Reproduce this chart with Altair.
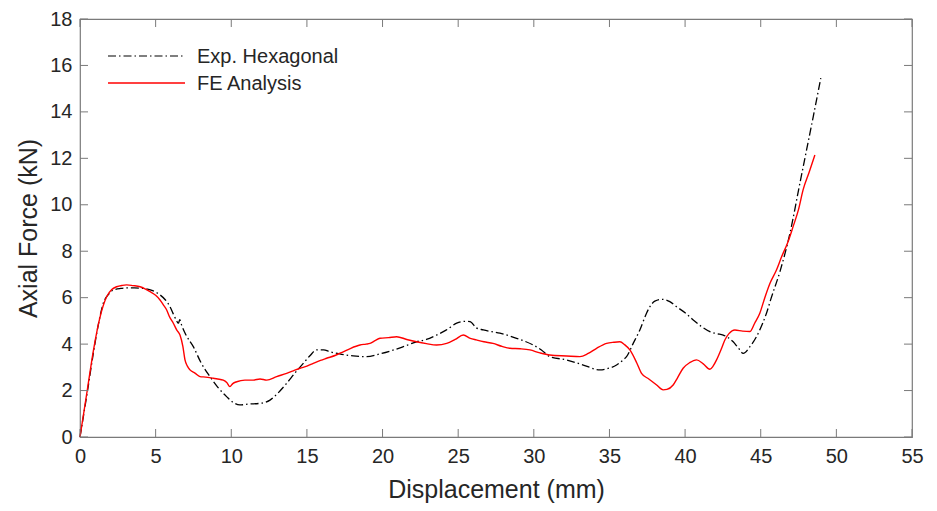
import altair as alt
import pandas as pd

# Exp. Hexagonal (dash-dot black)
exp_x = [0, 0.5, 0.88, 1.2, 1.54, 1.9, 2.2, 2.7, 3.08, 3.6, 4.19, 4.8, 5.29, 5.65, 5.95, 6.2,
         6.39, 6.5, 6.6, 6.7, 7.0, 7.49, 8.0, 8.59, 9.1, 9.69, 10.1, 10.57, 11.2, 11.9, 12.56,
         13.1, 13.66, 14.2, 14.76, 15.2, 15.64, 16.1, 16.52, 17.3, 18.06, 18.95, 19.83, 20.6,
         21.37, 22.25, 22.9, 23.57, 24.2, 24.9, 25.4, 25.78, 26.2, 26.66, 27.76, 28.86, 29.96,
         30.5, 31.06, 32.17, 33.27, 34.37, 34.9, 35.47, 35.91, 36.13, 36.57, 37.01, 37.45,
         37.67, 38.0, 38.44, 38.99, 39.44, 40.0, 40.54, 41.1, 41.64, 42.1, 42.52, 43.18, 43.5,
         43.84, 44.3, 44.72, 45.1, 45.38, 45.7, 46.27, 46.93, 47.59, 48.03, 48.47, 48.97]
exp_y = [0, 2.0, 3.6, 4.8, 5.76, 6.15, 6.33, 6.4, 6.42, 6.42, 6.4, 6.3, 6.12, 5.9, 5.61, 5.25,
         5.0, 4.9, 5.05, 4.85, 4.4, 3.89, 3.2, 2.6, 2.15, 1.74, 1.5, 1.38, 1.42, 1.45, 1.59,
         1.9, 2.31, 2.75, 3.17, 3.5, 3.75, 3.75, 3.67, 3.56, 3.49, 3.46, 3.58, 3.72,
         3.89, 4.1, 4.2, 4.39, 4.6, 4.9, 4.98, 4.97, 4.7, 4.61, 4.47, 4.25, 3.96,
         3.75, 3.46, 3.32, 3.1, 2.89, 2.95, 3.1, 3.32, 3.46, 4.03, 4.61, 5.33,
         5.61, 5.85, 5.93, 5.83, 5.61, 5.35, 5.04, 4.75, 4.54, 4.45, 4.39, 4.1, 3.85,
         3.6, 3.9, 4.32, 4.85, 5.33, 6.0, 7.12, 8.77, 10.93, 12.36, 13.79, 15.45]

# FE Analysis (solid red)
fe_x = [0, 0.5, 0.88, 1.3, 1.76, 2.1, 2.42, 2.8, 3.08, 3.5, 3.97, 4.3, 4.63, 5.0, 5.29, 5.5,
        5.73, 5.9, 6.17, 6.4, 6.61, 6.8, 6.94, 7.1, 7.27, 7.6, 7.93, 8.3, 8.81, 9.1, 9.47,
        9.7, 9.91, 10.1, 10.36, 10.9, 11.46, 11.9, 12.34, 13.0, 13.66, 14.1, 14.54, 15.0,
        15.42, 15.9, 16.3, 16.9, 17.4, 17.9, 18.51, 18.9, 19.17, 19.5, 19.83, 20.4, 20.93,
        21.6, 22.25, 22.9, 23.57, 24.24, 24.8, 25.34, 25.8, 26.2, 26.7, 27.3, 27.9, 28.42,
        29.1, 29.74, 30.4, 31.06, 32.17, 33.05, 33.6, 34.15, 34.81, 35.3, 35.69, 36.0, 36.35,
        36.8, 37.12, 37.6, 38.1, 38.55, 38.8, 39.21, 39.5, 39.87, 40.3, 40.76, 41.2, 41.64,
        41.85, 42.08, 42.4, 42.63, 42.9, 43.29, 43.8, 44.28, 44.6, 44.94, 45.27, 45.6, 46.04,
        46.38, 46.8, 47.14, 47.5, 47.8, 48.2, 48.58]
fe_y = [0, 2.1, 3.7, 5.1, 6.04, 6.35, 6.47, 6.53, 6.55, 6.52, 6.47, 6.38, 6.26, 6.1, 5.9, 5.7,
        5.47, 5.2, 4.9, 4.6, 4.39, 3.9, 3.32, 3.05, 2.89, 2.75, 2.6, 2.58, 2.53, 2.5, 2.45,
        2.35, 2.17, 2.3, 2.38, 2.45, 2.45, 2.5, 2.45, 2.6, 2.74, 2.85, 2.96, 3.05,
        3.17, 3.3, 3.39, 3.52, 3.67, 3.82, 3.96, 4.0, 4.03, 4.15, 4.25, 4.28, 4.32,
        4.2, 4.1, 4.02, 3.96, 4.03, 4.2, 4.39, 4.25, 4.18, 4.1, 4.03, 3.9, 3.82,
        3.8, 3.75, 3.62, 3.53, 3.49, 3.46, 3.6, 3.82, 4.03, 4.08, 4.1, 3.98, 3.75,
        3.2, 2.74, 2.5, 2.25, 2.03, 2.05, 2.24, 2.55, 2.96, 3.2, 3.32, 3.15, 2.92,
        3.05, 3.32, 3.8, 4.18, 4.45, 4.61, 4.56, 4.54, 4.9, 5.33, 6.0, 6.6, 7.19,
        7.76, 8.4, 9.06, 9.8, 10.64, 11.4, 12.14]

series_names = ["Exp. Hexagonal", "FE Analysis"]
x_ticks = [0, 5, 10, 15, 20, 25, 30, 35, 40, 45, 50, 55]
y_ticks = [0, 2, 4, 6, 8, 10, 12, 14, 16, 18]

W, H = 832, 418
FONT = "Liberation Sans"
TXT = "#262626"
AX = "#7a7a7a"

df_exp = pd.DataFrame({"x": exp_x, "y": exp_y})
df_fe = pd.DataFrame({"x": fe_x, "y": fe_y})
df_xt = pd.DataFrame({"t": x_ticks})
df_yt = pd.DataFrame({"t": y_ticks})

xscale = alt.Scale(domain=[0, 55], nice=False, zero=False)
yscale = alt.Scale(domain=[0, 18], nice=False, zero=False)

x_axis = alt.Axis(values=x_ticks, ticks=False, domain=False, grid=False, labelPadding=9,
                  labelFontSize=20, labelFont=FONT, labelColor=TXT, title="Displacement (mm)",
                  titleFont=FONT, titleFontSize=25, titleFontWeight="normal", titleColor=TXT,
                  titlePadding=11, labelFlush=False)
y_axis = alt.Axis(values=y_ticks, ticks=False, domain=False, grid=False, labelPadding=8,
                  labelFontSize=20, labelFont=FONT, labelColor=TXT, title="Axial Force (kN)",
                  titleFont=FONT, titleFontSize=25, titleFontWeight="normal", titleColor=TXT,
                  titlePadding=8, labelFlush=False)

exp_line = alt.Chart(df_exp).mark_line(color="black", strokeWidth=1.3, strokeDash=[8, 3, 1.5, 3],
                                       interpolate="monotone").encode(
    x=alt.X("x:Q", scale=xscale, axis=x_axis),
    y=alt.Y("y:Q", scale=yscale, axis=y_axis),
)
fe_line = alt.Chart(df_fe).mark_line(color="#ff0000", strokeWidth=1.4, interpolate="monotone").encode(
    x=alt.X("x:Q", scale=xscale),
    y=alt.Y("y:Q", scale=yscale),
)

tick_style = dict(color=AX, strokeWidth=1)
bt = alt.Chart(df_xt).mark_rule(**tick_style).encode(
    x=alt.X("t:Q", scale=xscale), y=alt.value(H), y2=alt.value(H - 8))
tt = alt.Chart(df_xt).mark_rule(**tick_style).encode(
    x=alt.X("t:Q", scale=xscale), y=alt.value(0), y2=alt.value(8))
lt = alt.Chart(df_yt).mark_rule(**tick_style).encode(
    y=alt.Y("t:Q", scale=yscale), x=alt.value(0), x2=alt.value(8))
rt = alt.Chart(df_yt).mark_rule(**tick_style).encode(
    y=alt.Y("t:Q", scale=yscale), x=alt.value(W), x2=alt.value(W - 8))

# Legend drawn manually
leg_df = pd.DataFrame({"name": series_names})
leg1 = alt.Chart(leg_df).transform_filter(alt.datum.name == series_names[0]).mark_rule(
    color="black", strokeWidth=1.2, strokeDash=[8, 3, 1.5, 3]).encode(
    x=alt.value(28), x2=alt.value(105), y=alt.value(37))
leg2 = alt.Chart(leg_df).transform_filter(alt.datum.name == series_names[1]).mark_rule(
    color="#ff0000", strokeWidth=1.3).encode(
    x=alt.value(28), x2=alt.value(105), y=alt.value(64))
legt1 = alt.Chart(leg_df).transform_filter(alt.datum.name == series_names[0]).mark_text(
    align="left", baseline="middle", font=FONT, fontSize=20, color=TXT).encode(
    x=alt.value(117), y=alt.value(38), text="name:N")
legt2 = alt.Chart(leg_df).transform_filter(alt.datum.name == series_names[1]).mark_text(
    align="left", baseline="middle", font=FONT, fontSize=20, color=TXT).encode(
    x=alt.value(117), y=alt.value(65), text="name:N")

chart = alt.layer(exp_line, fe_line, bt, tt, lt, rt, leg1, leg2, legt1, legt2).properties(
    width=W, height=H,
    autosize=alt.AutoSizeParams(type="none"),
    padding={"left": 80, "top": 19, "right": 25, "bottom": 74},
    background="white",
).configure_view(stroke=AX, strokeWidth=1.2)

chart.save("out.html", embed_options={"renderer": "svg", "actions": False})
